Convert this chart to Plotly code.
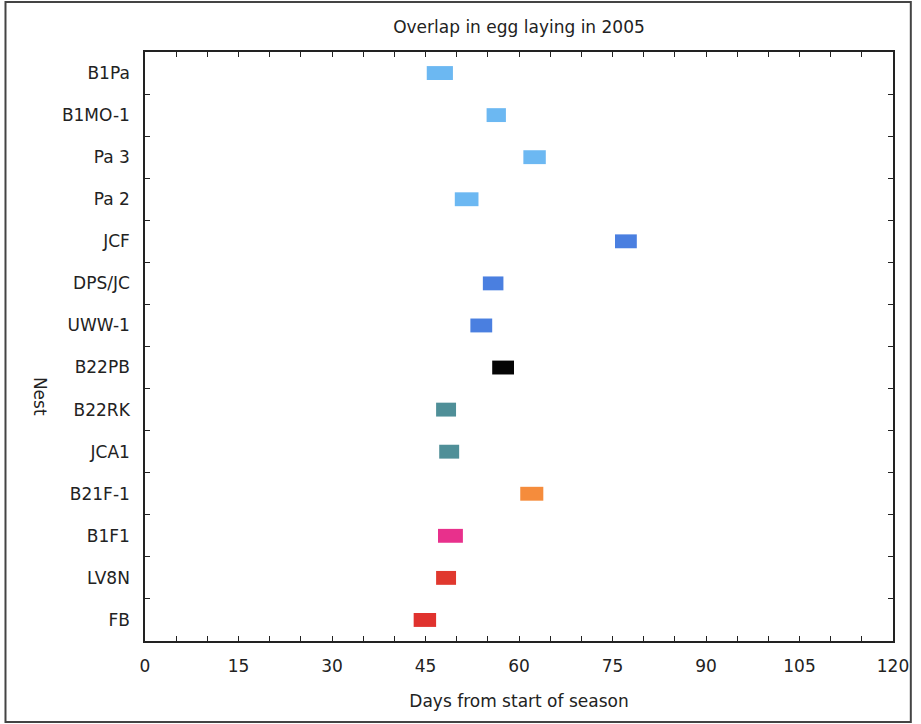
import plotly.graph_objects as go

# Nest names, top to bottom as listed on the axis
nests = ["B1Pa", "B1MO-1", "Pa 3", "Pa 2", "JCF", "DPS/JC", "UWW-1",
         "B22PB", "B22RK", "JCA1", "B21F-1", "B1F1", "LV8N", "FB"]
# First and last day of egg laying (days from start of season)
start_day = [45.2, 54.8, 60.7, 49.7, 75.4, 54.2, 52.2,
             55.7, 46.7, 47.2, 60.2, 47.0, 46.7, 43.1]
end_day = [49.4, 57.9, 64.3, 53.5, 78.9, 57.5, 55.7,
           59.2, 49.9, 50.4, 63.9, 51.0, 49.9, 46.7]
colors = ["#6cb8f2", "#6cb8f2", "#6cb8f2", "#6cb8f2",
          "#4a7fe0", "#4a7fe0", "#4a7fe0",
          "#050505", "#4f8f98", "#4f8f98",
          "#f58c3c", "#e8308c", "#e0382e", "#e0322e"]

x_ticks = [0, 15, 30, 45, 60, 75, 90, 105, 120]

durations = [e - s for s, e in zip(start_day, end_day)]

fig = go.Figure(go.Bar(
    y=nests, x=durations, base=start_day, orientation="h",
    marker=dict(color=colors, line=dict(width=0)),
    width=0.33, showlegend=False,
))

W, H = 921, 724
L, R, T, B = 145, 20, 52, 83
pw, ph = W - L - R, H - T - B

def px_x(p):
    return (p - L) / pw

def px_y(p):
    return (H - B - p) / ph

font = "DejaVu Sans, Verdana, sans-serif"
fs = 17

fig.update_layout(
    width=W, height=H,
    margin=dict(l=L, r=R, t=T, b=B),
    paper_bgcolor="white", plot_bgcolor="white",
    font=dict(family=font, size=fs, color="#222"),
    title=dict(text="Overlap in egg laying in 2005", x=px_x(523), xref="paper",
               xanchor="center", y=1 - 27 / H, yanchor="middle",
               font=dict(size=fs)),
    xaxis=dict(
        range=[0, 120], tickvals=x_ticks, ticktext=[str(v) for v in x_ticks],
        ticks="inside", ticklen=5, tickcolor="#222", showgrid=False,
        zeroline=False, showline=True, linecolor="#222", linewidth=1.5,
        mirror="ticks", ticklabelstandoff=9,
        minor=dict(dtick=5, ticks="inside", ticklen=5, tickcolor="#222", showgrid=False),
        title=dict(text="Days from start of season", standoff=20, font=dict(size=fs)),
        tickfont=dict(size=fs),
    ),
    yaxis=dict(
        categoryorder="array", categoryarray=nests[::-1],
        range=[-0.5, len(nests) - 0.5],
        tickson="boundaries", ticks="inside", ticklen=5, tickcolor="#222",
        showgrid=False, zeroline=False, showline=True, linecolor="#222",
        linewidth=1.5, mirror="ticks", ticklabelstandoff=10,
        tickfont=dict(size=fs),
    ),
    annotations=[dict(text="Nest", textangle=90, xref="paper", yref="paper",
                      x=px_x(39), y=px_y(396), xanchor="center", yanchor="middle",
                      showarrow=False, font=dict(size=fs))],
    shapes=[dict(type="rect", xref="paper", yref="paper",
                 x0=px_x(4), x1=px_x(919), y0=px_y(722), y1=px_y(2),
                 line=dict(color="#444", width=2), layer="below")],
)

fig.write_html("out.html")
